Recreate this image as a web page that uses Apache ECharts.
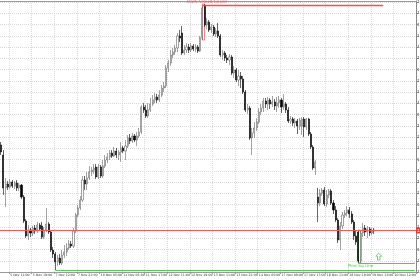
<!DOCTYPE html>
<html>
<head>
<meta charset="utf-8">
<script src="https://cdn.jsdelivr.net/npm/echarts@6/dist/echarts.min.js"></script>
<style>html,body{margin:0;padding:0;background:#fff}#c{width:420px;height:280px}</style>
</head>
<body>
<div id="c"></div>
<script>
// time-axis tick labels (every 10th bar, starting with bar 4)
const tickLabels = ["5 Nov 11:00","5 Nov 19:00","7 Nov 12:00","7 Nov 21:00","10 Nov 05:00","11 Nov 05:00","11 Nov 17:00","12 Nov 11:00","12 Nov 19:00","13 Nov 11:00","13 Nov 21:00","14 Nov 05:00","17 Nov 09:00","17 Nov 17:00","18 Nov 11:00","18 Nov 19:00","19 Nov 13:00","20 Nov 12:00"];
const barCount = 184; // slots on the time axis (last ones empty = chart shift)
// prices in points (1.00000 = 100000): [open, close, low, high]
const candles = [
[115586,115530,115506,115610],[115506,115242,115186,115546],[115242,115274,115090,115322],[115274,115250,115226,115298],
[115250,115290,115234,115314],[115290,115258,115242,115306],[115258,115282,115234,115298],[115282,115242,115218,115306],
[115242,115266,115218,115282],[115266,115170,115154,115274],[115170,114978,114962,115186],[114978,114858,114842,114994],
[114858,114906,114826,114946],[114906,114882,114850,114922],[114882,114922,114858,114938],[114922,114898,114874,114946],
[114898,114946,114882,114970],[114946,114914,114898,114962],[114938,114850,114834,114970],[114850,114906,114834,114930],
[114906,114954,114890,115082],[114954,114890,114874,114970],[114890,114746,114730,114906],[114746,114714,114682,114770],
[114714,114650,114586,114730],[114650,114682,114618,114706],[114682,114642,114626,114714],[114642,114706,114626,114746],
[114706,114730,114682,114786],[114730,114762,114698,114802],[114762,114794,114746,114826],[114794,114778,114762,114818],
[114778,114898,114762,114922],[114898,115026,114882,115042],[115026,115082,115010,115106],[115082,115146,115066,115178],
[115146,115306,115130,115338],[115306,115274,115226,115338],[115274,115322,115226,115370],[115322,115370,115306,115418],
[115370,115386,115338,115410],[115386,115402,115354,115434],[115410,115330,115314,115434],[115330,115410,115314,115434],
[115410,115338,115322,115426],[115338,115418,115322,115466],[115418,115466,115402,115506],[115466,115490,115442,115522],
[115490,115522,115466,115546],[115522,115498,115482,115546],[115498,115538,115490,115570],[115538,115506,115482,115562],
[115506,115530,115466,115546],[115530,115562,115450,115610],[115562,115538,115522,115578],[115538,115578,115466,115626],
[115578,115642,115562,115666],[115642,115618,115594,115674],[115618,115658,115602,115682],[115658,115626,115610,115674],
[115626,115658,115578,115690],[115658,115690,115642,115722],[115690,115890,115674,115906],[115890,115866,115842,115922],
[115866,115818,115802,115906],[115818,115866,115802,115922],[115866,115914,115850,115962],[115914,115946,115898,115986],
[115946,115970,115922,116002],[115970,115946,115922,115994],[115946,115986,115930,116026],[115986,116042,115970,116066],
[116042,116058,116010,116090],[116058,116202,116042,116226],[116202,116242,116170,116266],[116242,116306,116218,116346],
[116306,116330,116282,116362],[116330,116362,116306,116386],[116362,116458,116330,116482],[116458,116442,116410,116506],
[116482,116322,116306,116538],[116322,116346,116306,116386],[116346,116370,116322,116402],[116370,116346,116322,116394],
[116346,116378,116330,116402],[116378,116354,116338,116394],[116354,116370,116330,116394],[116370,116338,116322,116386],
[116338,116442,116330,116458],[116442,116682,116426,116698],[116698,116546,116530,116714],[116546,116570,116514,116602],
[116570,116506,116490,116586],[116506,116530,116482,116554],[116530,116474,116458,116546],[116474,116498,116450,116522],
[116498,116458,116442,116562],[116458,116306,116290,116474],[116306,116322,116266,116346],[116322,116282,116258,116338],
[116282,116266,116242,116306],[116266,116290,116226,116314],[116290,116162,116146,116306],[116162,116186,116122,116218],
[116186,116106,116090,116202],[116106,116138,116058,116186],[116138,116114,116042,116170],[116114,116010,115994,116138],
[116010,115866,115850,116026],[115866,115882,115834,115914],[115882,115642,115626,115898],[115642,115682,115506,115722],
[115682,115722,115642,115770],[115722,115770,115698,115802],[115770,115850,115754,115882],[115850,115882,115826,115914],
[115882,115938,115850,115962],[115938,115914,115882,115962],[115914,115946,115866,115970],[115946,115914,115874,115962],
[115914,115930,115890,115978],[115930,115898,115866,115954],[115898,115922,115850,115970],[115922,115946,115882,115978],
[115946,115890,115842,115962],[115890,115914,115866,115994],[115914,115866,115842,115930],[115866,115778,115762,115890],
[115778,115794,115754,115818],[115794,115762,115738,115810],[115762,115778,115722,115802],[115778,115738,115674,115794],
[115738,115786,115706,115802],[115738,115794,115666,115810],[115794,115730,115650,115810],[115730,115794,115706,115802],
[115794,115674,115658,115802],[115674,115570,115554,115690],[115570,115402,115386,115586],[115402,115450,115346,115466],
[115170,115122,114970,115242],[115122,115202,115098,115234],[115202,115226,115178,115242],[115226,115114,115098,115250],
[115114,115186,115090,115226],[115186,115218,115162,115234],[115218,115122,115106,115234],[115122,115066,115034,115146],
[115066,114986,114970,115098],[114986,114826,114802,115002],[114826,114938,114746,114970],[114938,115026,114914,115050],
[115026,115042,115002,115066],[115042,115066,115018,115098],[115066,115034,115002,115090],[115034,114970,114954,115058],
[114970,114858,114826,114986],[114858,114810,114786,114898],[114890,114658,114642,114906],[114658,114882,114642,114906],
[114882,114922,114850,114962],[114922,114890,114858,114946],[114890,114914,114842,114938],[114914,114882,114858,114930],
[114882,114906,114866,114922],[114906,114898,114874,114922]
];
const bidPrice = 114902;
// patterns: bar indices and price levels
const darkCloud = {name: "Dark Cloud Cover", from: 89, to: 90, high: 116714, low: 116426, level: 116702, levelEnd: 169, textAt: 91, textPrice: 116734};
const piercing = {name: "Piercing Line", from: 158, to: 159, high: 114906, low: 114642, level: 114638, textAt: 159, textPrice: 114620, arrowAt: 167, arrowPrice: 114694};
const support = {from: 24, level: 114582};
const yMin = 114570, yMax = 116738, yStep = 90;

const categories = [];
for (let i = 0; i < barCount; i++) categories.push(String(i));
const lastSlot = barCount - 1;
const RED = '#f05a5a', GREEN = '#55c855';
const showTick = (i) => i >= 4 && (i - 4) % 10 === 0;

function levelSeries(from, to, level, color, width) {
  return {
    type: 'line', data: [[from, level], [to, level]], symbol: 'none', silent: true,
    lineStyle: {color: color, width: width, type: 'solid'}, itemStyle: {color: color}, z: 10
  };
}

const chart = echarts.init(document.getElementById('c'), null, {renderer: 'canvas'});
chart.setOption({
  animation: false,
  backgroundColor: '#ffffff',
  grid: {left: 0, right: 4, top: 1, bottom: 8, containLabel: false, outerBoundsMode: 'none'},
  xAxis: [{
    type: 'category', data: categories, boundaryGap: true, position: 'bottom',
    axisLine: {show: true, lineStyle: {color: '#999', width: 1}},
    axisTick: {show: true, length: 2, interval: showTick, lineStyle: {color: '#999'}},
    axisLabel: {show: true, interval: showTick, fontSize: 3.2, color: '#333', margin: 2, align: 'left', hideOverlap: false,
      fontFamily: 'DejaVu Sans', formatter: (v, i) => tickLabels[Math.round((i - 4) / 10)] || ''},
    splitLine: {show: true, interval: showTick, lineStyle: {color: '#d8d8d8', type: 'dotted', width: 1}}
  }, {
    type: 'category', data: categories, position: 'top',
    axisLine: {show: true, lineStyle: {color: '#999', width: 1}},
    axisTick: {show: false}, axisLabel: {show: false}, splitLine: {show: false}
  }],
  yAxis: {
    type: 'value', position: 'right', min: yMin, max: yMax, interval: yStep, scale: true,
    axisLine: {show: true, lineStyle: {color: '#888', width: 1}},
    axisTick: {show: true, length: 2, lineStyle: {color: '#888'}},
    axisLabel: {show: true, fontSize: 4, color: '#333', margin: 1, fontFamily: 'DejaVu Sans',
      formatter: (v) => (v / 100000).toFixed(5)},
    splitLine: {show: true, lineStyle: {color: '#d8d8d8', type: 'dotted', width: 1}}
  },
  series: [{
    type: 'candlestick',
    data: candles,
    barWidth: 1.6,
    itemStyle: {color: '#ffffff', color0: '#000000', borderColor: '#666666', borderColor0: '#000000', borderWidth: 0.6},
    markArea: {
      silent: true,
      data: [
        [{xAxis: darkCloud.from, yAxis: darkCloud.high, itemStyle: {color: 'rgba(0,0,0,0)', borderColor: RED, borderWidth: 0.8}},
         {xAxis: darkCloud.to, yAxis: darkCloud.low}],
        [{xAxis: piercing.from, yAxis: piercing.high, itemStyle: {color: 'rgba(0,0,0,0)', borderColor: GREEN, borderWidth: 0.8}},
         {xAxis: piercing.to, yAxis: piercing.low}]
      ]
    },
    markLine: {
      silent: true, symbol: ['none', 'none'],
      data: [
        {yAxis: bidPrice, lineStyle: {color: RED, width: 1, type: 'solid'},
         label: {show: true, position: 'end', formatter: (bidPrice / 100000).toFixed(5), backgroundColor: '#e04040', color: '#fff', fontSize: 4, padding: [1, 1], distance: 0}}
      ]
    },
    markPoint: {
      silent: true,
      data: [
        {coord: [darkCloud.textAt, darkCloud.textPrice], symbol: 'circle', symbolSize: 0,
         label: {show: true, position: 'inside', formatter: darkCloud.name, color: RED, fontSize: 4.6, fontFamily: 'DejaVu Sans'}},
        {coord: [piercing.textAt, piercing.textPrice], symbol: 'circle', symbolSize: 0,
         label: {show: true, position: 'inside', formatter: piercing.name, color: GREEN, fontSize: 4, fontFamily: 'DejaVu Sans'}},
        {coord: [piercing.arrowAt, piercing.arrowPrice], symbol: 'path://M5,0 L10,5 L7,5 L7,11 L3,11 L3,5 L0,5 Z', symbolSize: [6, 7],
         itemStyle: {color: '#ffffff', borderColor: GREEN, borderWidth: 0.8}, label: {show: false}}
      ]
    }
  },
  levelSeries(darkCloud.from, darkCloud.levelEnd, darkCloud.level, '#ff4a4a', 1.5),
  levelSeries(piercing.from, lastSlot, piercing.level, GREEN, 1),
  levelSeries(support.from, lastSlot, support.level, GREEN, 1)
  ]
});
</script>
</body>
</html>
